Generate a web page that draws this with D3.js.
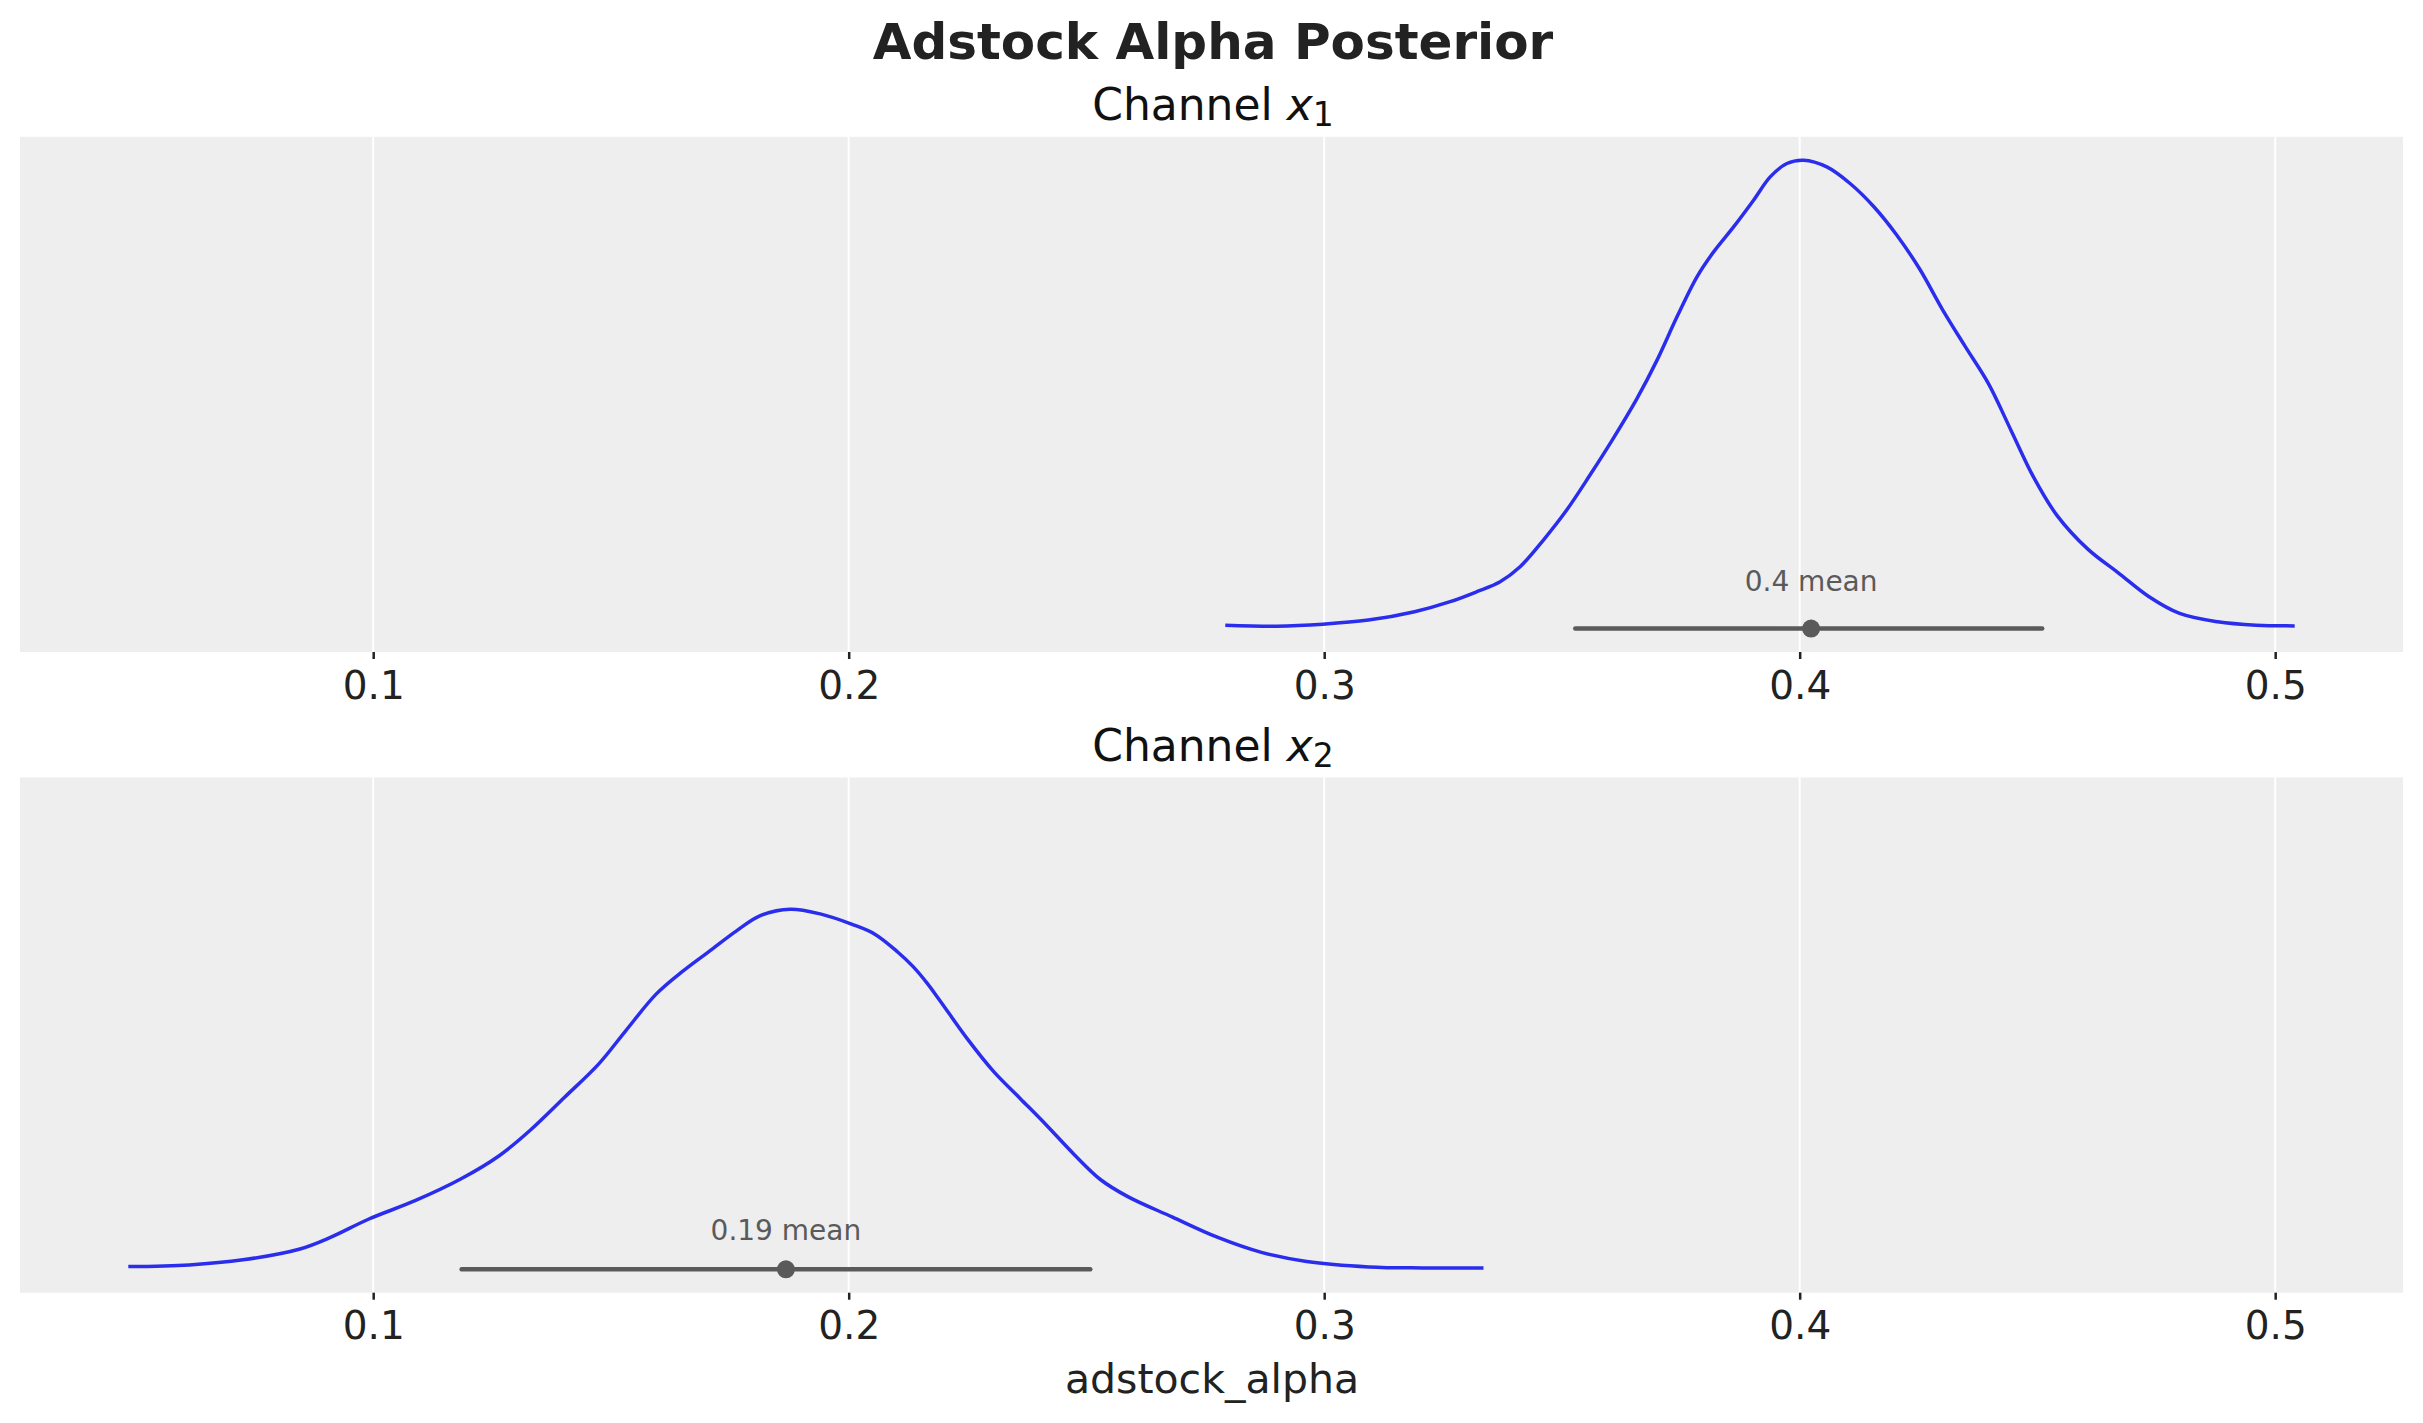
<!DOCTYPE html>
<html>
<head>
<meta charset="utf-8">
<script src="https://cdn.jsdelivr.net/npm/d3@7"></script>
<style>
  html, body { margin: 0; padding: 0; background: #ffffff; }
  svg { display: block; font-family: "DejaVu Sans", sans-serif; }
</style>
</head>
<body>
<svg id="chart" width="2423" height="1423"></svg>
<script>
// ---------------- data ----------------
const chartTitle = "Adstock Alpha Posterior";
const xLabel = "adstock_alpha";
const channelSubscripts = ["1", "2"];
const xTicks = [0.1, 0.2, 0.3, 0.4, 0.5];

// Channel x1 posterior density (x value, density)
const kdeX1 = [
  [0.2792, 0.094], [0.2900, 0.067], [0.2997, 0.122], [0.3093, 0.236], [0.3190, 0.468],
  [0.3265, 0.746], [0.3321, 1.023], [0.3370, 1.300], [0.3412, 1.716], [0.3461, 2.456],
  [0.3510, 3.288], [0.3559, 4.258], [0.3608, 5.275], [0.3658, 6.384], [0.3700, 7.446],
  [0.3742, 8.646], [0.3784, 9.755], [0.3819, 10.448], [0.3861, 11.141], [0.3903, 11.881],
  [0.3938, 12.527], [0.3973, 12.898], [0.4008, 12.990], [0.4057, 12.804], [0.4106, 12.344],
  [0.4156, 11.700], [0.4204, 10.916], [0.4252, 9.979], [0.4300, 8.856], [0.4348, 7.825],
  [0.4397, 6.794], [0.4445, 5.483], [0.4493, 4.172], [0.4541, 3.141], [0.4606, 2.204],
  [0.4670, 1.547], [0.4734, 0.890], [0.4799, 0.421], [0.4879, 0.188], [0.4960, 0.094],
  [0.5041, 0.075]
];

// Channel x2 posterior density (x value, density)
const kdeX2 = [
  [0.0485, 0.075], [0.0613, 0.122], [0.0726, 0.262], [0.0846, 0.563], [0.0910, 0.884],
  [0.0991, 1.394], [0.1088, 1.902], [0.1184, 2.503], [0.1265, 3.149], [0.1329, 3.842],
  [0.1402, 4.765], [0.1474, 5.691], [0.1531, 6.614], [0.1595, 7.631], [0.1652, 8.277],
  [0.1708, 8.832], [0.1764, 9.386], [0.1813, 9.802], [0.1877, 9.987], [0.1942, 9.849],
  [0.2006, 9.572], [0.2055, 9.295], [0.2103, 8.800], [0.2135, 8.400], [0.2164, 7.950],
  [0.2192, 7.449], [0.2248, 6.418], [0.2305, 5.481], [0.2361, 4.732], [0.2417, 3.982],
  [0.2474, 3.186], [0.2530, 2.483], [0.2587, 2.015], [0.2680, 1.452], [0.2775, 0.890],
  [0.2868, 0.469], [0.2963, 0.216], [0.3094, 0.066], [0.3207, 0.037], [0.3335, 0.037]
];

const hdiLow = [0.3528, 0.1186];
const hdiHigh = [0.4510, 0.2508];
const meanValues = [0.4024, 0.1868];
const meanLabels = ["0.4 mean", "0.19 mean"];

// ---------------- layout ----------------
const W = 2423, H = 1423;
const left = 20, right = 2403;
const panelTops = [136.8, 777.5];
const panelH = 515.2;

const svg = d3.select("#chart");
const series = [kdeX1, kdeX2];

const allX = series.flat().map(d => d[0]);
const xMin = d3.min(allX), xMax = d3.max(allX);
const xPad = (xMax - xMin) * 0.05;
const x = d3.scaleLinear().domain([xMin - xPad, xMax + xPad]).range([left, right]);

const yMax = d3.max(series.flat(), d => d[1]);

// title
svg.append("text")
  .attr("x", 1213).attr("y", 58.5)
  .attr("text-anchor", "middle")
  .attr("font-size", 50).attr("font-weight", "bold")
  .attr("fill", "#222222")
  .text(chartTitle);

series.forEach((data, i) => {
  const top = panelTops[i];
  const bottom = top + panelH;
  const y = d3.scaleLinear().domain([-0.05 * yMax, 1.05 * yMax]).range([bottom, top]);
  const g = svg.append("g");

  // background
  g.append("rect")
    .attr("x", left).attr("y", top)
    .attr("width", right - left).attr("height", panelH)
    .attr("fill", "#eeeeee");

  // grid
  g.selectAll("line.grid").data(xTicks).enter().append("line")
    .attr("class", "grid")
    .attr("x1", d => x(d)).attr("x2", d => x(d))
    .attr("y1", top).attr("y2", bottom)
    .attr("stroke", "#ffffff").attr("stroke-width", 2);

  // axis
  const axis = d3.axisBottom(x).tickValues(xTicks).tickFormat(d3.format(".1f"))
    .tickSize(7).tickPadding(12);
  const ag = g.append("g").attr("transform", `translate(0,${bottom})`).call(axis);
  ag.select(".domain").remove();
  ag.selectAll(".tick line").attr("stroke", "#222222").attr("stroke-width", 2.5);
  ag.selectAll(".tick text")
    .attr("font-size", 39).attr("fill", "#222222")
    .attr("font-family", "DejaVu Sans");

  // subplot title
  const t = svg.append("text")
    .attr("x", 1213).attr("y", top - 16.8)
    .attr("text-anchor", "middle")
    .attr("font-size", 44).attr("fill", "#111111");
  t.append("tspan").text("Channel ");
  t.append("tspan").attr("font-style", "italic").text("x");
  t.append("tspan").attr("font-size", 33).attr("dy", 6).text(channelSubscripts[i]);

  // KDE line
  const line = d3.line()
    .x(d => x(d[0])).y(d => y(d[1]))
    .curve(d3.curveCatmullRom.alpha(0.5));
  g.append("path")
    .datum(data)
    .attr("d", line)
    .attr("fill", "none")
    .attr("stroke", "#2a2eec")
    .attr("stroke-width", 3.5)
    .attr("stroke-linejoin", "round");

  // HDI
  g.append("line")
    .attr("x1", x(hdiLow[i])).attr("x2", x(hdiHigh[i]))
    .attr("y1", y(0)).attr("y2", y(0))
    .attr("stroke", "#5a5a5a").attr("stroke-width", 4.5)
    .attr("stroke-linecap", "round");

  g.append("circle")
    .attr("cx", x(meanValues[i])).attr("cy", y(0))
    .attr("r", 9).attr("fill", "#5a5a5a");

  const panelMax = d3.max(data, d => d[1]);
  g.append("text")
    .attr("x", x(meanValues[i])).attr("y", y(panelMax * 0.08))
    .attr("text-anchor", "middle")
    .attr("font-size", 28).attr("fill", "#5a5a5a")
    .text(meanLabels[i]);
});

// x label
svg.append("text")
  .attr("x", 1212).attr("y", 1393)
  .attr("text-anchor", "middle")
  .attr("font-size", 41).attr("fill", "#222222")
  .text(xLabel);
</script>
</body>
</html>
